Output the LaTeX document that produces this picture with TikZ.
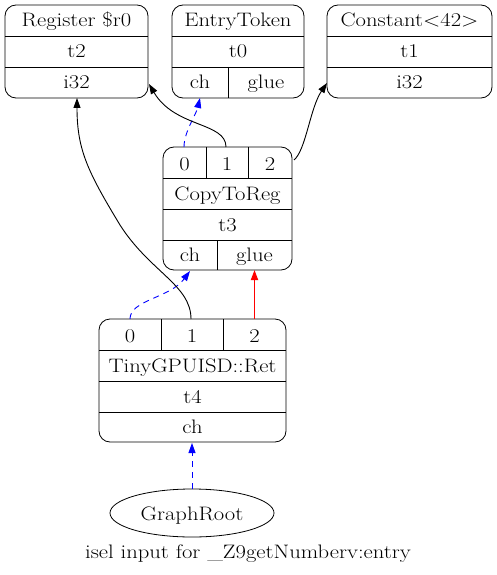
\documentclass[tikz,border=0pt]{standalone}
\usetikzlibrary{arrows.meta,shapes.geometric}
\begin{document}
\begin{tikzpicture}[x=1pt,y=-1pt,
  every node/.style={font=\fontsize{19.5}{22}\selectfont, inner sep=0pt},
  rec/.style={draw, rounded corners=11pt, line width=0.8pt},
  div/.style={line width=0.8pt},
  lbl/.style={anchor=base, xscale=1.16, transform shape},
  edge/.style={line width=0.9pt, -{Triangle[length=10pt,width=7pt]}},
  dedge/.style={edge, blue, dash pattern=on 6pt off 5pt},
  redge/.style={line width=1.7pt, red, -{Triangle[length=10pt,width=7pt]}}]
\useasboundingbox (0,0) rectangle (497,575);

% Register $r0
\node[rec, minimum width=143pt, minimum height=93pt] (reg) at (76.5,51.5) {};
\draw[div] (5,36) -- (148,36) (5,67) -- (148,67);
\node[lbl] (regT) at (76.5,27) {Register \$r0};
\node[lbl] (regI) at (76.5,58) {t2};
\node[lbl] (regV) at (76.5,89) {i32};
\coordinate (regB) at (77,98);
\coordinate (regR) at (149,84);

% EntryToken
\node[rec, minimum width=132pt, minimum height=93pt] (ent) at (238,51.5) {};
\draw[div] (172,36) -- (304,36) (172,67) -- (304,67) (228,67) -- (228,98);
\node[lbl] (entT) at (238,27) {EntryToken};
\node[lbl] (entI) at (238,58) {t0};
\node[lbl] (entCh) at (200,89) {ch};
\node[lbl] (entG) at (266,89) {glue};
\coordinate (entChB) at (200,98);

% Constant<42>
\node[rec, minimum width=165pt, minimum height=93pt] (con) at (409.5,51.5) {};
\draw[div] (327,36) -- (492,36) (327,67) -- (492,67);
\node[lbl] (conT) at (409.5,27) {Constant<42>};
\node[lbl] (conI) at (409.5,58) {t1};
\node[lbl] (conV) at (409.5,89) {i32};
\coordinate (conL) at (327,83);

% CopyToReg
\node[rec, minimum width=129pt, minimum height=123pt] (cpy) at (227.5,208.5) {};
\draw[div] (163,178) -- (292,178) (163,209) -- (292,209) (163,240) -- (292,240)
  (206,147) -- (206,178) (248,147) -- (248,178) (217,240) -- (217,270);
\node[lbl] (cp0) at (184.5,170) {0};
\node[lbl] (cp1) at (227,170) {1};
\node[lbl] (cp2) at (270,170) {2};
\node[lbl] (cpT) at (227.5,200) {CopyToReg};
\node[lbl] (cpI) at (227.5,231) {t3};
\node[lbl] (cpCh) at (190,261) {ch};
\node[lbl] (cpG) at (254.5,261) {glue};
\coordinate (cpP0) at (184,147);
\coordinate (cpP1) at (226,147);
\coordinate (cpP2) at (294,160);
\coordinate (cpChB) at (190,271);
\coordinate (cpGB) at (254.5,270);

% TinyGPUISD::Ret
\node[rec, minimum width=187pt, minimum height=123pt] (ret) at (192.5,380.5) {};
\draw[div] (99,350) -- (286,350) (99,381) -- (286,381) (99,412) -- (286,412)
  (161,319) -- (161,350) (223,319) -- (223,350);
\node[lbl] (rp0) at (130,342) {0};
\node[lbl] (rp1) at (192,342) {1};
\node[lbl] (rp2) at (254.5,342) {2};
\node[lbl] (rtT) at (192.5,372) {TinyGPUISD::Ret};
\node[lbl] (rtI) at (192.5,403) {t4};
\node[lbl] (rtCh) at (192.5,433) {ch};
\coordinate (rP0) at (130,319);
\coordinate (rP1) at (191,319);
\coordinate (rP2) at (254.5,319);
\coordinate (rChB) at (192,443);

% GraphRoot
\node[draw, ellipse, line width=0.8pt, minimum width=164pt, minimum height=48pt] (root) at (192,513) {};
\node[lbl] (rootT) at (192,520) {GraphRoot};

% caption
\node[lbl] (cap) at (248,558) {isel input for \_Z9getNumberv:entry};

% edges
\draw[dedge] (root.north) -- (rChB);
\draw[redge] (rP2) -- (cpGB);
\draw[dedge] (rP0) .. controls (130,300) and (170,298) .. (cpChB);
\draw[edge] (rP1) .. controls (191,285) and (150,272) .. (120,225) .. controls (88,172) and (77,150) .. (regB);
\draw[dedge] (cpP0) .. controls (184,132) and (196,115) .. (entChB);
\draw[edge] (cpP1) .. controls (226,122) and (175,128) .. (regR);
\draw[edge] (cpP2) .. controls (306,150) and (310,108) .. (conL);
\end{tikzpicture}
\end{document}
